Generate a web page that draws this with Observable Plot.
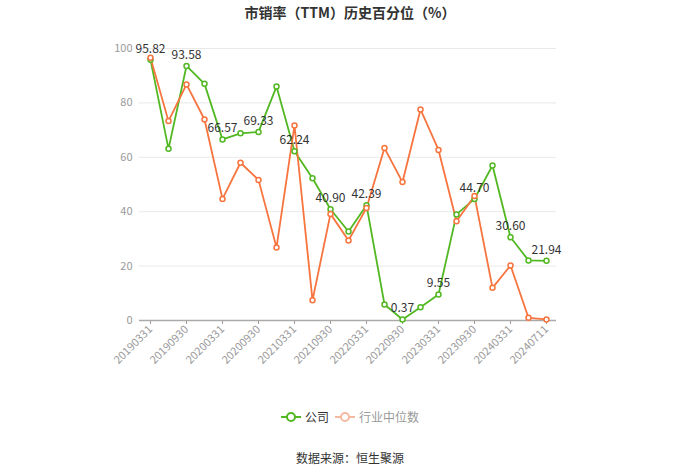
<!DOCTYPE html>
<html>
<head>
<meta charset="utf-8">
<script src="https://cdn.jsdelivr.net/npm/d3@7"></script>
<script src="https://cdn.jsdelivr.net/npm/@observablehq/plot@0.6"></script>
<style>
  html, body { margin: 0; padding: 0; background: #fff; }
  body { width: 700px; height: 474px; position: relative; overflow: hidden;
         font-family: "Noto Sans CJK SC", "Noto Sans", sans-serif; }
  #title { position: absolute; top: 2px; left: 0; width: 700px; text-align: center;
           font-size: 14px; font-weight: bold; color: #333; line-height: 20px; }
  #chart { position: absolute; top: 0; left: 0; }
  #legend { position: absolute; top: 408px; left: 0; width: 700px; text-align: center;
            font-size: 12px; color: #333; line-height: 18px; }
  #legend span.item { display: inline-flex; align-items: center; margin: 0 3px; }
  #legend svg { margin-right: 4px; }
  #caption { position: absolute; top: 449px; left: 0; width: 700px; text-align: center;
             font-size: 12px; color: #333; line-height: 18px; }
</style>
</head>
<body>
<div id="title">市销率（TTM）历史百分位（%）</div>
<div id="chart"></div>
<div id="legend"></div>
<div id="caption">数据来源：恒生聚源</div>
<script>
const dates = ["20190331","20190630","20190930","20191231","20200331","20200630","20200930","20201231",
  "20210331","20210630","20210930","20211231","20220331","20220630","20220930","20221231",
  "20230331","20230630","20230930","20231231","20240331","20240630","20240711"];
const company = [95.82, 63.1, 93.58, 87.0, 66.57, 68.8, 69.33, 86.0, 62.24, 52.3, 40.90, 32.7,
  42.39, 5.9, 0.37, 4.9, 9.55, 39.0, 44.70, 57.0, 30.60, 22.1, 21.94];
const industry = [96.6, 73.3, 86.8, 73.9, 44.7, 58.0, 51.7, 26.8, 71.7, 7.4, 39.2, 29.4,
  41.4, 63.4, 50.9, 77.6, 62.7, 36.5, 45.8, 12.0, 20.2, 1.0, 0.4];
const tickDates = ["20190331","20190930","20200331","20200930","20210331","20210930","20220331",
  "20220930","20230331","20230930","20240331","20240711"];
const yTicks = [0, 20, 40, 60, 80, 100];
const seriesNames = ["公司", "行业中位数"];
const colors = ["#52b822", "#f7743f"];

const compData = dates.map((d, i) => ({date: d, value: company[i]}));
const indData = dates.map((d, i) => ({date: d, value: industry[i]}));
const labelData = compData.filter(d => tickDates.includes(d.date));

const chart = Plot.plot({
  width: 700,
  height: 400,
  marginTop: 48,
  marginBottom: 80,
  marginLeft: 139,
  marginRight: 144,
  style: {fontFamily: '"Noto Sans CJK SC", "Noto Sans", sans-serif', fontSize: "11px", background: "transparent"},
  x: {type: "point", domain: dates, padding: 0.5},
  y: {domain: [0, 100]},
  marks: [
    Plot.gridY(yTicks, {stroke: "#e9e9e9", strokeOpacity: 1}),
    Plot.axisY(yTicks, {tickSize: 0, tickPadding: 7, fill: "#999", fontSize: 11, label: null}),
    Plot.axisX(tickDates, {tickRotate: -45, tickSize: 4, tickPadding: 3, stroke: "#999", fill: "#999", fontSize: 11, label: null}),
    Plot.ruleY([0], {stroke: "#aaa", strokeWidth: 1.5}),
    Plot.line(compData, {x: "date", y: "value", stroke: colors[0], strokeWidth: 1.8}),
    Plot.line(indData, {x: "date", y: "value", stroke: colors[1], strokeWidth: 1.8}),
    Plot.dot(compData, {x: "date", y: "value", r: 2.5, fill: "#fff", stroke: colors[0], strokeWidth: 1.5}),
    Plot.dot(indData, {x: "date", y: "value", r: 2.5, fill: "#fff", stroke: colors[1], strokeWidth: 1.5}),
    Plot.text(labelData, {x: "date", y: "value", text: d => d.value.toFixed(2), dy: -11, fill: "#333", fontSize: 12})
  ]
});
document.getElementById("chart").appendChild(chart);

const legend = document.getElementById("legend");
const legendColors = [colors[0], "#f4b9a0"];
const textColors = ["#333", "#999"];
seriesNames.forEach((name, i) => {
  const item = document.createElement("span");
  item.className = "item";
  item.innerHTML = `<svg width="20" height="12"><line x1="0" y1="6" x2="20" y2="6" stroke="${legendColors[i]}" stroke-width="2"/><circle cx="10" cy="6" r="4" fill="#fff" stroke="${legendColors[i]}" stroke-width="2"/></svg><span style="color:${textColors[i]}">${name}</span>`;
  legend.appendChild(item);
});
</script>
</body>
</html>
